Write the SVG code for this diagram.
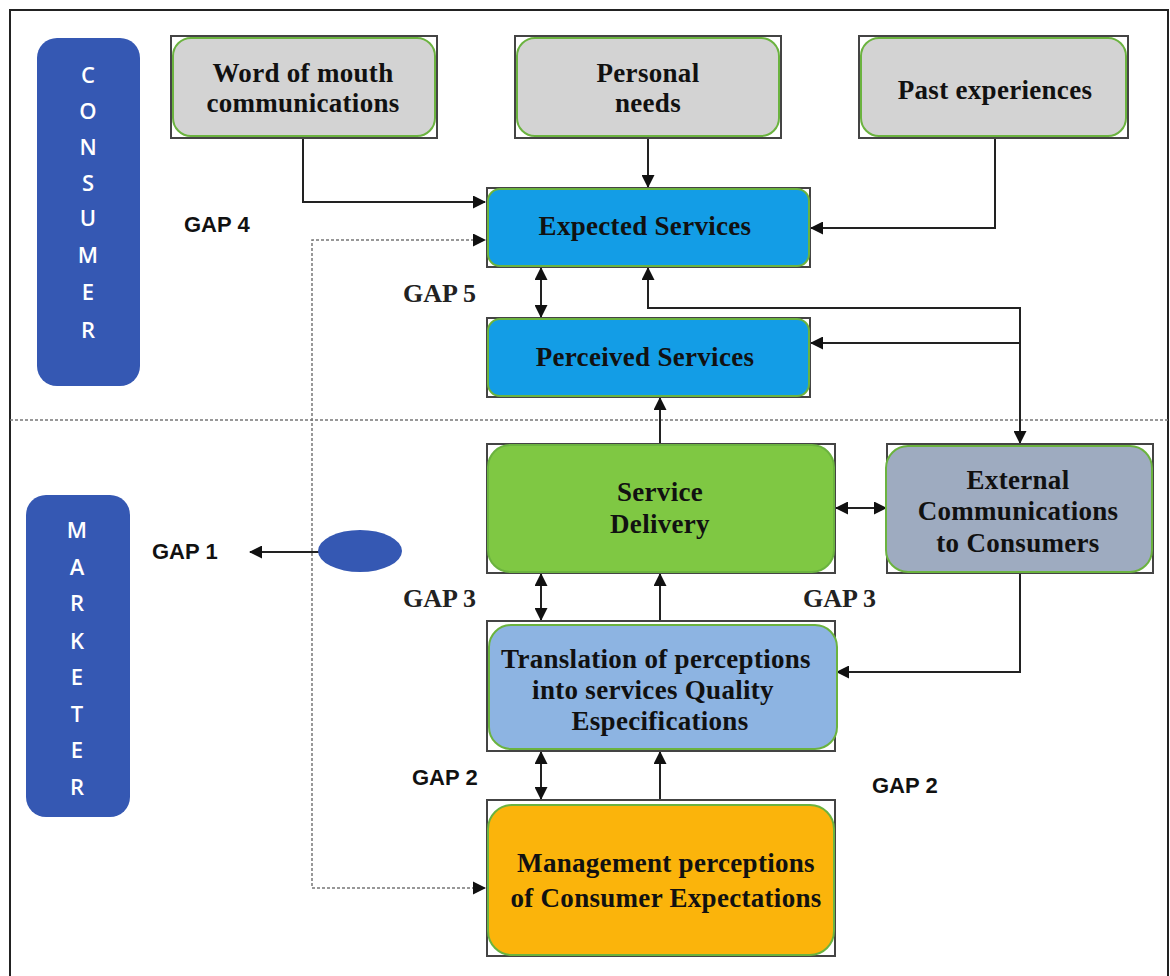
<svg xmlns="http://www.w3.org/2000/svg" width="1170" height="976" viewBox="0 0 1170 976">
<style>
.frame{fill:#fff;stroke:#444;stroke-width:2}
.inner{stroke:#6bb33f;stroke-width:2}
.grey{fill:#d3d3d3}.blue{fill:#139de6}.green{fill:#7fc843}.slate{fill:#9eabc0}.lblue{fill:#8db4e2}.orange{fill:#fbb40b}
.t{font-family:"Liberation Serif","Times New Roman",serif;font-weight:bold;font-size:27px;fill:#111;text-anchor:middle;letter-spacing:0.3px}
.gs{font-family:"Liberation Serif","Times New Roman",serif;font-weight:bold;font-size:26px;fill:#222}
.ga{font-family:"Liberation Sans",Arial,sans-serif;font-weight:bold;font-size:22px;fill:#111}
.side{fill:#3558b3}
.sl{font-family:"Open Sans","Liberation Sans",sans-serif;font-weight:600;font-size:22px;fill:#fff;text-anchor:middle}
.c{fill:none;stroke:#222;stroke-width:2}
.d{fill:none;stroke:#777;stroke-width:1.5;stroke-dasharray:3 2}
</style>
<defs>
<marker id="ah" markerWidth="13" markerHeight="13" refX="12" refY="6.5" orient="auto-start-reverse" markerUnits="userSpaceOnUse" viewBox="0 0 13 13">
<path d="M0,0 L13,6.5 L0,13 z" fill="#111"/>
</marker>
</defs>
<rect x="10" y="10" width="1158" height="990" fill="#fff" stroke="#222" stroke-width="2"/>
<line x1="10" y1="420" x2="1170" y2="420" class="d" stroke="#aaa"/>

<g id="consumer">
<rect x="37" y="38" width="103" height="348" rx="20" class="side"/>
<text class="sl"><tspan x="88" y="83">C</tspan><tspan x="88" y="119">O</tspan><tspan x="88" y="155">N</tspan><tspan x="88" y="191">S</tspan><tspan x="88" y="226">U</tspan><tspan x="88" y="263">M</tspan><tspan x="88" y="300">E</tspan><tspan x="88" y="338">R</tspan></text>
</g>
<g id="marketer">
<rect x="26" y="495" width="104" height="322" rx="20" class="side"/>
<text class="sl"><tspan x="77" y="538">M</tspan><tspan x="77" y="575">A</tspan><tspan x="77" y="611">R</tspan><tspan x="77" y="649">K</tspan><tspan x="77" y="685">E</tspan><tspan x="77" y="722">T</tspan><tspan x="77" y="758">E</tspan><tspan x="77" y="795">R</tspan></text>
</g>

<g id="connectors">
<polyline class="c" points="303,138 303,202 485,202" marker-end="url(#ah)"/>
<line class="c" x1="648" y1="138" x2="648" y2="187" marker-end="url(#ah)"/>
<polyline class="c" points="995,138 995,228 811,228" marker-end="url(#ah)"/>
<polyline class="d" points="485,888 312,888 312,240 485,240" marker-end="url(#ah)"/>
<path d="M473,881.5 L486,888 L473,894.5 z" fill="#111"/>
<line class="c" x1="541" y1="268" x2="541" y2="317" marker-start="url(#ah)" marker-end="url(#ah)"/>
<polyline class="c" points="648,268 648,308 1020,308 1020,443" marker-start="url(#ah)" marker-end="url(#ah)"/>
<polyline class="c" points="1020,343 811,343" marker-end="url(#ah)"/>
<line class="c" x1="660" y1="444" x2="660" y2="398" marker-end="url(#ah)"/>
<line class="c" x1="836" y1="508" x2="886" y2="508" marker-start="url(#ah)" marker-end="url(#ah)"/>
<line class="c" x1="541" y1="574" x2="541" y2="620" marker-start="url(#ah)" marker-end="url(#ah)"/>
<line class="c" x1="660" y1="621" x2="660" y2="574" marker-end="url(#ah)"/>
<polyline class="c" points="1020,573 1020,672 837,672" marker-end="url(#ah)"/>
<line class="c" x1="541" y1="752" x2="541" y2="799" marker-start="url(#ah)" marker-end="url(#ah)"/>
<line class="c" x1="660" y1="800" x2="660" y2="752" marker-end="url(#ah)"/>
<line class="c" x1="332" y1="552" x2="250" y2="552" marker-end="url(#ah)"/>
</g>

<g id="word-of-mouth">
<rect x="171" y="36" width="266" height="102" class="frame"/>
<rect x="173" y="38" width="262" height="98" rx="18" class="inner grey"/>
<text class="t"><tspan x="303" y="82">Word of mouth</tspan><tspan x="303" y="112">communications</tspan></text>
</g>
<g id="personal-needs">
<rect x="515" y="36" width="266" height="102" class="frame"/>
<rect x="517" y="38" width="262" height="98" rx="18" class="inner grey"/>
<text class="t"><tspan x="648" y="82">Personal</tspan><tspan x="648" y="112">needs</tspan></text>
</g>
<g id="past-experiences">
<rect x="859" y="36" width="269" height="102" class="frame"/>
<rect x="861" y="38" width="265" height="98" rx="18" class="inner grey"/>
<text class="t" x="995" y="99">Past experiences</text>
</g>
<g id="expected-services">
<rect x="487" y="188" width="323" height="79" class="frame"/>
<rect x="488" y="189" width="321" height="77" rx="12" class="inner blue" stroke-width="1.5"/>
<text class="t" x="645" y="235">Expected Services</text>
</g>
<g id="perceived-services">
<rect x="487" y="318" width="323" height="79" class="frame"/>
<rect x="488" y="319" width="321" height="77" rx="12" class="inner blue" stroke-width="1.5"/>
<text class="t" x="645" y="366">Perceived Services</text>
</g>
<g id="service-delivery">
<rect x="487" y="444" width="348" height="129" class="frame"/>
<rect x="488" y="445" width="346" height="127" rx="22" class="inner green" stroke-width="1"/>
<text class="t"><tspan x="660" y="501">Service</tspan><tspan x="660" y="533">Delivery</tspan></text>
</g>
<g id="external-communications">
<rect x="887" y="444" width="266" height="129" class="frame"/>
<rect x="886" y="446" width="266" height="126" rx="22" class="inner slate"/>
<text class="t"><tspan x="1018" y="489">External</tspan><tspan x="1018" y="520">Communications</tspan><tspan x="1018" y="552">to Consumers</tspan></text>
</g>
<g id="translation">
<rect x="487" y="621" width="348" height="130" class="frame"/>
<rect x="489" y="625" width="348" height="124" rx="22" class="inner lblue"/>
<text class="t"><tspan x="656" y="668">Translation of perceptions</tspan><tspan x="653" y="699">into services Quality</tspan><tspan x="660" y="730">Especifications</tspan></text>
</g>
<g id="management">
<rect x="487" y="800" width="348" height="156" class="frame"/>
<rect x="488" y="805" width="346" height="150" rx="24" class="inner orange" stroke-width="1.5"/>
<text class="t"><tspan x="666" y="872">Management perceptions</tspan><tspan x="666" y="907">of Consumer Expectations</tspan></text>
</g>
<g id="gap1-marker">
<ellipse cx="360" cy="551" rx="42" ry="21" class="side"/>
</g>

<g id="labels">
<text class="ga" x="184" y="232">GAP 4</text>
<text class="ga" x="152" y="559">GAP 1</text>
<text class="ga" x="412" y="785">GAP 2</text>
<text class="ga" x="872" y="793">GAP 2</text>
<text class="gs" x="403" y="302">GAP 5</text>
<text class="gs" x="403" y="607">GAP 3</text>
<text class="gs" x="803" y="607">GAP 3</text>
</g>
</svg>
